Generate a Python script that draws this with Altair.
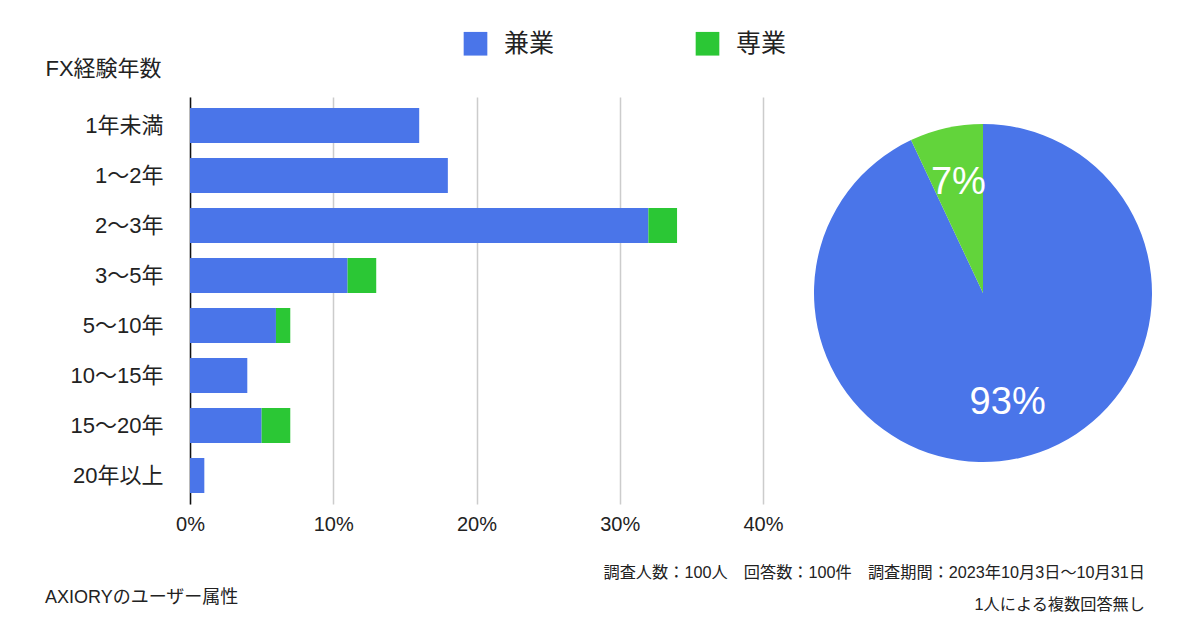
import altair as alt
import pandas as pd

categories = ["1年未満", "1〜2年", "2〜3年", "3〜5年", "5〜10年", "10〜15年", "15〜20年", "20年以上"]
series = ["兼業", "専業"]
kengyo = [16, 18, 32, 11, 6, 4, 5, 1]
sengyo = [0, 0, 2, 2, 1, 0, 2, 0]
pie_values = [93, 7]
pie_labels = ["93%", "7%"]
x_ticks = [0, 0.1, 0.2, 0.3, 0.4]
bar_colors = ["#4a75e9", "#2bc735"]
pie_colors = ["#4a75e9", "#62d43b"]
y_title = "FX経験年数"
source_note = "AXIORYのユーザー属性"
survey_notes = ["調査人数：100人　回答数：100件　調査期間：2023年10月3日〜10月31日",
                "1人による複数回答無し"]

FONT = "Liberation Sans, Noto Sans CJK JP"
TXT = "#222222"

rows = []
for i, c in enumerate(categories):
    for j, vals in enumerate([kengyo, sengyo]):
        if vals[i] > 0:
            rows.append({"category": c, "series": series[j], "share": vals[i] / 100, "order": j})
bar_df = pd.DataFrame(rows)

bars = alt.Chart(bar_df).mark_bar().encode(
    x=alt.X("share:Q", stack="zero",
            scale=alt.Scale(domain=[0, 0.4], nice=False),
            axis=alt.Axis(values=x_ticks, format=".0%", title=None, grid=True,
                          gridColor="#cccccc", gridWidth=1.5, domain=False, ticks=False,
                          labelFlush=False, labelFontSize=20, labelPadding=10,
                          labelColor=TXT, labelFont=FONT)),
    y=alt.Y("category:N", sort=categories,
            scale=alt.Scale(paddingInner=0.3, paddingOuter=0.22),
            axis=alt.Axis(title=y_title, titleAngle=0, titleAlign="left",
                          titleBaseline="alphabetic", titleX=-145, titleY=-22,
                          titleFontSize=22, titleFontWeight="normal", titleFont=FONT,
                          titleColor=TXT, labelFontSize=22, labelFont=FONT, labelColor=TXT,
                          labelPadding=27, ticks=False, domainColor="#111111",
                          domainWidth=1.5, grid=False)),
    color=alt.Color("series:N", scale=alt.Scale(domain=series, range=bar_colors),
                    legend=alt.Legend(title=None, orient="none", legendX=273, legendY=-66,
                                      direction="horizontal", symbolType="square",
                                      symbolSize=560, symbolStrokeWidth=0,
                                      labelFontSize=25, labelFont=FONT, labelColor=TXT,
                                      labelOffset=16, columnPadding=140)),
    order=alt.Order("order:Q"),
)

source = alt.Chart(pd.DataFrame({"t": [source_note]})).mark_text(
    align="left", baseline="middle", fontSize=18, font=FONT, color=TXT
).encode(x=alt.value(-145), y=alt.value(501), text="t:N")

left = alt.layer(bars, source).properties(width=573, height=407)

pie_df = pd.DataFrame({"series": series, "value": pie_values, "label": pie_labels, "order": [0, 1]})
base = alt.Chart(pie_df).encode(theta=alt.Theta("value:Q", stack=True), order=alt.Order("order:Q"))
arcs = base.mark_arc(outerRadius=169).encode(
    color=alt.Color("series:N", scale=alt.Scale(domain=series, range=pie_colors), legend=None)
)
labels = base.mark_text(radius=113, fontSize=38, font=FONT, color="white").encode(text="label:N")
notes = alt.Chart(pd.DataFrame({"t": ["\n".join(survey_notes)]})).mark_text(
    align="right", baseline="middle", fontSize=16.2, font=FONT, color=TXT,
    lineBreak="\n", lineHeight=32
).encode(x=alt.value(331), y=alt.value(476), text="t:N")

pie = alt.layer(arcs, labels, notes).properties(width=338, height=392)

chart = alt.hconcat(left, pie, spacing=51, bounds="flush").resolve_scale(
    color="independent"
).properties(
    padding={"left": 45, "top": 31, "right": 5, "bottom": 5}
).configure(font=FONT).configure_view(stroke=None)

chart.save("out.html", embed_options={"renderer": "svg", "actions": False})
